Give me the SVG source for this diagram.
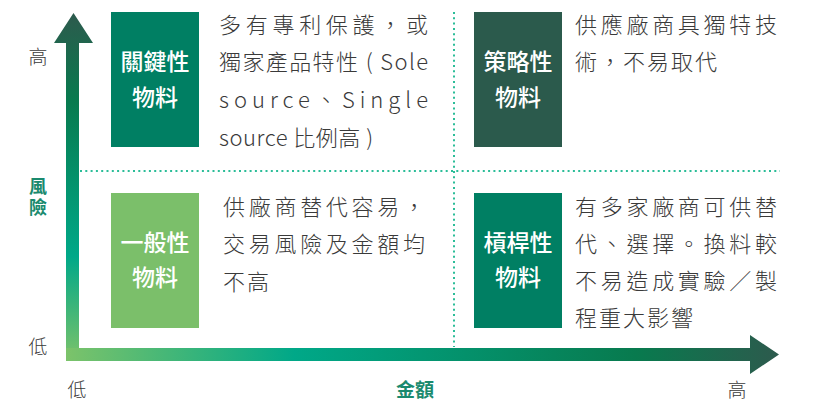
<svg xmlns="http://www.w3.org/2000/svg" width="814" height="403" viewBox="0 0 814 403">
<defs>
<linearGradient id="gv" gradientUnits="userSpaceOnUse" x1="0" y1="13" x2="0" y2="361">
<stop offset="0" stop-color="#2d5a4d"/>
<stop offset="0.25" stop-color="#087a4e"/>
<stop offset="0.7" stop-color="#00a888"/>
<stop offset="1" stop-color="#7cc36a"/>
</linearGradient>
<linearGradient id="gh" gradientUnits="userSpaceOnUse" x1="66" y1="0" x2="779" y2="0">
<stop offset="0" stop-color="#7cc36a"/>
<stop offset="0.32" stop-color="#00a888"/>
<stop offset="0.8" stop-color="#087a4e"/>
<stop offset="1" stop-color="#2d5a4d"/>
</linearGradient>
<style>
.dot{stroke:#2bbd98;stroke-width:2;stroke-dasharray:2 3.3;fill:none}
.lab{font-family:"Noto Sans CJK TC","Noto Sans CJK SC",sans-serif;font-size:23px;font-weight:500;fill:#ffffff;text-anchor:middle}
.desc{font-family:"Noto Sans CJK TC","Noto Sans CJK SC",sans-serif;font-size:22px;font-weight:300;fill:#3a3a3a;letter-spacing:2px}
.ax{font-family:"Noto Sans CJK TC","Noto Sans CJK SC",sans-serif;font-size:19px;font-weight:300;fill:#3a3a3a;text-anchor:middle}
.axb{font-family:"Noto Sans CJK TC","Noto Sans CJK SC",sans-serif;font-size:18px;font-weight:700;fill:#1a8a6e;text-anchor:middle}
.vert{writing-mode:vertical-rl;text-orientation:upright;text-anchor:start;letter-spacing:3px}
</style>
</defs>
<g id="grid">
<line class="dot" x1="80" y1="171" x2="780" y2="171"/>
<line class="dot" x1="454" y1="12" x2="454" y2="347"/>
</g>
<g id="axes">
<polygon points="66,361 66,43 54,43 73.5,13 93,43 79,43 79,361" fill="url(#gv)"/>
<polygon points="66,348 750,348 750,335 779,354.5 750,374 750,361 66,361" fill="url(#gh)"/>
<text class="ax" x="38" y="64">高</text>
<text class="axb vert" x="38" y="177">風險</text>
<text class="ax" x="38" y="354">低</text>
<text class="ax" x="77" y="397">低</text>
<text class="axb" x="415" y="397" style="font-size:19px">金額</text>
<text class="ax" x="737" y="397">高</text>
</g>
<g id="critical">
<rect x="111" y="12" width="88" height="135" fill="#007f63"/>
<text class="lab" x="155" y="70">關鍵性</text>
<text class="lab" x="155" y="106">物料</text>
<text class="desc" x="219" y="33" textLength="211" lengthAdjust="spacing">多有專利保護，或</text>
<text class="desc" x="219" y="70" textLength="211" lengthAdjust="spacing">獨家產品特性 ( Sole</text>
<text class="desc" x="219" y="108" textLength="211" lengthAdjust="spacing">source、Single</text>
<text class="desc" x="219" y="146" style="letter-spacing:0.5px">source 比例高 )</text>
</g>
<g id="strategic">
<rect x="474" y="12" width="88" height="135" fill="#2b5a4c"/>
<text class="lab" x="518" y="70">策略性</text>
<text class="lab" x="518" y="106">物料</text>
<text class="desc" x="575" y="33" textLength="204" lengthAdjust="spacing">供應廠商具獨特技</text>
<text class="desc" x="575" y="70">術，不易取代</text>
</g>
<g id="general">
<rect x="111" y="193" width="88" height="135" fill="#7bbf6a"/>
<text class="lab" x="155" y="251">一般性</text>
<text class="lab" x="155" y="286">物料</text>
<text class="desc" x="223" y="215" textLength="204" lengthAdjust="spacing">供廠商替代容易，</text>
<text class="desc" x="223" y="252" textLength="204" lengthAdjust="spacing">交易風險及金額均</text>
<text class="desc" x="223" y="290">不高</text>
</g>
<g id="leverage">
<rect x="474" y="193" width="88" height="135" fill="#007f63"/>
<text class="lab" x="518" y="251">槓桿性</text>
<text class="lab" x="518" y="286">物料</text>
<text class="desc" x="575" y="215" textLength="204" lengthAdjust="spacing">有多家廠商可供替</text>
<text class="desc" x="575" y="252" textLength="204" lengthAdjust="spacing">代、選擇。換料較</text>
<text class="desc" x="575" y="289" textLength="204" lengthAdjust="spacing">不易造成實驗／製</text>
<text class="desc" x="575" y="326">程重大影響</text>
</g>
</svg>
